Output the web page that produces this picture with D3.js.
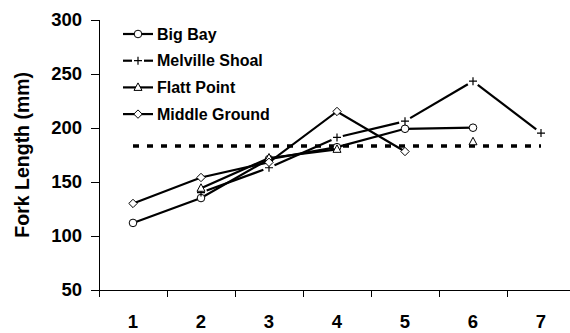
<!DOCTYPE html>
<html>
<head>
<meta charset="utf-8">
<script src="https://cdn.jsdelivr.net/npm/d3@7"></script>
<style>
  body { margin: 0; background: #fff; }
  svg text { font-family: 'Liberation Sans', Arial, sans-serif; font-weight: bold; fill: #000; }
</style>
</head>
<body>
<div id="chart"></div>
<script>
// data
const categories = [1, 2, 3, 4, 5, 6, 7];
const bigBay = [112, 135, 171, 182, 199, 200, null];
const melvilleShoal = [null, 140, 163, 191, 206, 243, 195];
const flattPoint = [null, 144, 172, 180, null, 187, null];
const middleGround = [130, 154, 168, 215, 178, null, null];
const referenceLine = [183, 183, 183, 183, 183, 183, 183];
const yTicks = [50, 100, 150, 200, 250, 300];
const yLabel = 'Fork Length (mm)';

const series = [
  { name: 'Big Bay', values: bigBay, marker: 'circle', gapped: false },
  { name: 'Melville Shoal', values: melvilleShoal, marker: 'plus', gapped: true },
  { name: 'Flatt Point', values: flattPoint, marker: 'triangle', gapped: false },
  { name: 'Middle Ground', values: middleGround, marker: 'diamond', gapped: false },
];

const width = 570;
const height = 333;
const margin = { top: 19.5, right: -5, bottom: 43, left: 99 };

const svg = d3.select('#chart').append('svg')
  .attr('width', width)
  .attr('height', height);

const x = d3.scaleLinear()
  .domain([0.5, categories.length + 0.5])
  .range([margin.left, width - margin.right]);

const y = d3.scaleLinear()
  .domain([50, 300])
  .range([height - margin.bottom, margin.top]);

// axes
const yAx = svg.append('g')
  .attr('transform', `translate(${margin.left},0)`)
  .call(d3.axisLeft(y).tickValues(yTicks).tickSizeInner(8).tickSizeOuter(0).tickPadding(9));
yAx.selectAll('text').style('font-size', '18.5px');

const bounds = d3.range(0.5, categories.length + 1, 1);
const xAx = svg.append('g')
  .attr('transform', `translate(0,${y(50)})`)
  .call(d3.axisBottom(x).tickValues(bounds).tickFormat('').tickSizeInner(7).tickSizeOuter(0));
xAx.append('g')
  .selectAll('text')
  .data(categories)
  .join('text')
  .attr('x', d => x(d))
  .attr('y', 38)
  .attr('text-anchor', 'middle')
  .style('font-size', '18.5px')
  .text(d => d);

svg.selectAll('.domain, .tick line')
  .style('stroke', '#000')
  .style('stroke-width', 1)
  .style('shape-rendering', 'crispEdges');

svg.append('text')
  .attr('transform', `translate(29,${(y(50) + y(300)) / 2}) rotate(-90)`)
  .attr('text-anchor', 'middle')
  .style('font-size', '19.5px')
  .text(yLabel);

// dotted reference line
const line = d3.line()
  .defined(d => d.v !== null)
  .x(d => x(d.c))
  .y(d => y(d.v));

const pts = vals => vals.map((v, i) => ({ c: categories[i], v }));

svg.append('path')
  .attr('d', line(pts(referenceLine)))
  .style('fill', 'none')
  .style('stroke', '#000')
  .style('stroke-width', 3.5)
  .style('stroke-dasharray', '6,8');

function drawMarker(g, type, cx, cy) {
  if (type === 'circle') {
    g.append('circle').attr('cx', cx).attr('cy', cy).attr('r', 3.8)
      .style('fill', '#fff').style('stroke', '#000').style('stroke-width', 1);
  } else if (type === 'triangle') {
    g.append('path')
      .attr('d', `M${cx},${cy - 4.5}L${cx + 4},${cy + 3}L${cx - 4},${cy + 3}Z`)
      .style('fill', '#fff').style('stroke', '#000').style('stroke-width', 1);
  } else if (type === 'diamond') {
    g.append('path')
      .attr('d', `M${cx},${cy - 4.2}L${cx + 4.2},${cy}L${cx},${cy + 4.2}L${cx - 4.2},${cy}Z`)
      .style('fill', '#fff').style('stroke', '#000').style('stroke-width', 1);
  } else {
    g.append('path')
      .attr('d', `M${cx - 4},${cy}H${cx + 4}M${cx},${cy - 4}V${cy + 4}`)
      .style('fill', 'none').style('stroke', '#000').style('stroke-width', 1.2);
  }
}

// segments shortened near the markers (Melville Shoal)
function gappedSegments(g, p, gap) {
  for (let i = 0; i < p.length - 1; i++) {
    const a = p[i];
    const b = p[i + 1];
    if (a.v === null || b.v === null) continue;
    const x1 = x(a.c), y1 = y(a.v), x2 = x(b.c), y2 = y(b.v);
    const len = Math.hypot(x2 - x1, y2 - y1);
    const ux = (x2 - x1) / len, uy = (y2 - y1) / len;
    g.append('line')
      .attr('x1', x1 + ux * gap).attr('y1', y1 + uy * gap)
      .attr('x2', x2 - ux * gap).attr('y2', y2 - uy * gap)
      .style('stroke', '#000').style('stroke-width', 2.2);
  }
}

series.forEach(s => {
  const g = svg.append('g');
  const p = pts(s.values);
  if (s.gapped) {
    gappedSegments(g, p, 6);
  } else {
    g.append('path')
      .attr('d', line(p))
      .style('fill', 'none')
      .style('stroke', '#000')
      .style('stroke-width', 2.2);
  }
  p.filter(d => d.v !== null).forEach(d => drawMarker(g, s.marker, x(d.c), y(d.v)));
});

// legend
const legend = svg.append('g');
series.forEach((s, i) => {
  const ly = 34 + i * 26.7;
  const g = legend.append('g');
  if (s.gapped) {
    g.append('line').attr('x1', 123).attr('x2', 132).attr('y1', ly).attr('y2', ly)
      .style('stroke', '#000').style('stroke-width', 2.2);
    g.append('line').attr('x1', 144).attr('x2', 153).attr('y1', ly).attr('y2', ly)
      .style('stroke', '#000').style('stroke-width', 2.2);
  } else {
    g.append('line').attr('x1', 123).attr('x2', 153).attr('y1', ly).attr('y2', ly)
      .style('stroke', '#000').style('stroke-width', 2.2);
  }
  drawMarker(g, s.marker, 138, ly);
  g.append('text')
    .attr('x', 157)
    .attr('y', ly + 5.5)
    .style('font-size', '16px')
    .text(s.name);
});
</script>
</body>
</html>
